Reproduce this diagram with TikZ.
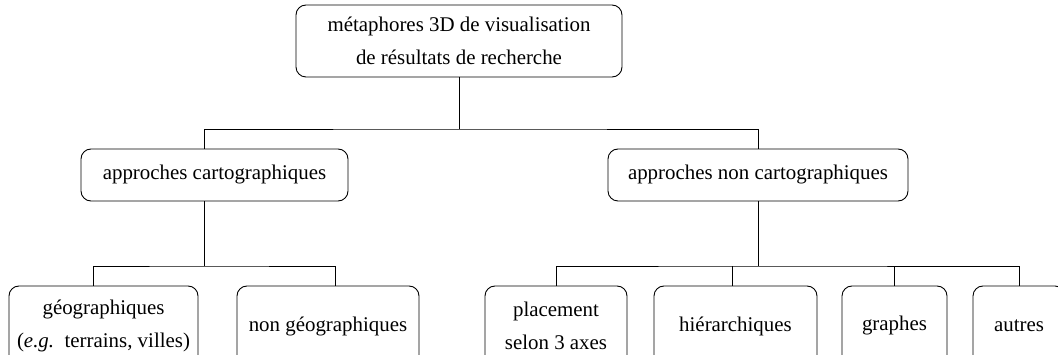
\documentclass[tikz,border=0pt]{standalone}
\usepackage{fontspec}
\setmainfont{Liberation Serif}
\begin{document}
\begin{tikzpicture}[x=1pt,y=-1pt,
  box/.style={draw,rounded corners=10pt,line width=0.9pt,inner sep=0pt,align=center,
    font=\fontsize{20.9}{33}\selectfont},
  link/.style={line width=0.9pt}]
\useasboundingbox (0,0) rectangle (1058,355);
\clip (0,0) rectangle (1058,355);
% nodes
\node[box,minimum width=326pt,minimum height=72pt] (top) at (459,41)
  {métaphores 3D de visualisation\\de résultats de recherche};
\node[box,minimum width=267pt,minimum height=52pt] (carto) at (214.5,175)
  {approches cartographiques};
\node[box,minimum width=300pt,minimum height=52pt] (noncarto) at (758,175)
  {approches non cartographiques};
\node[box,minimum width=189pt,minimum height=80pt] (geo) at (103.5,326)
  {\raisebox{0pt}{géographiques}\\(\textit{e.g.}\ \ terrains, villes)};
\node[box,minimum width=182pt,minimum height=80pt] (nongeo) at (328,326)
  {non géographiques};
\node[box,minimum width=142pt,minimum height=80pt] (place) at (556,326)
  {placement\\selon 3 axes};
\node[box,minimum width=163pt,minimum height=80pt] (hier) at (735.5,326)
  {hiérarchiques};
\node[box,minimum width=105pt,minimum height=80pt] (graph) at (894.5,326)
  {graphes};
\node[box,minimum width=92pt,minimum height=80pt] (autres) at (1019,326)
  {autres};
% bus levels
\coordinate (bus1) at (0,129);
\coordinate (bus2) at (0,266);
\coordinate (cstem) at (204,0);
% connectors
\draw[link] (top.south) -- (top.south |- bus1);
\draw[link] (carto.north -| cstem) |- (top.south |- bus1) -| (noncarto.north);
\draw[link] (carto.south -| cstem) -- (cstem |- bus2);
\draw[link] (geo.north -| 93,0) |- (cstem |- bus2) -| (nongeo.north -| 335,0);
\draw[link] (noncarto.south) -- (noncarto.south |- bus2);
\draw[link] (place.north) |- (noncarto.south |- bus2) -| (autres.north);
\draw[link] (hier.north -| 732,0) -- (732,266);
\draw[link] (graph.north) -- (graph.north |- bus2);
\end{tikzpicture}
\end{document}
